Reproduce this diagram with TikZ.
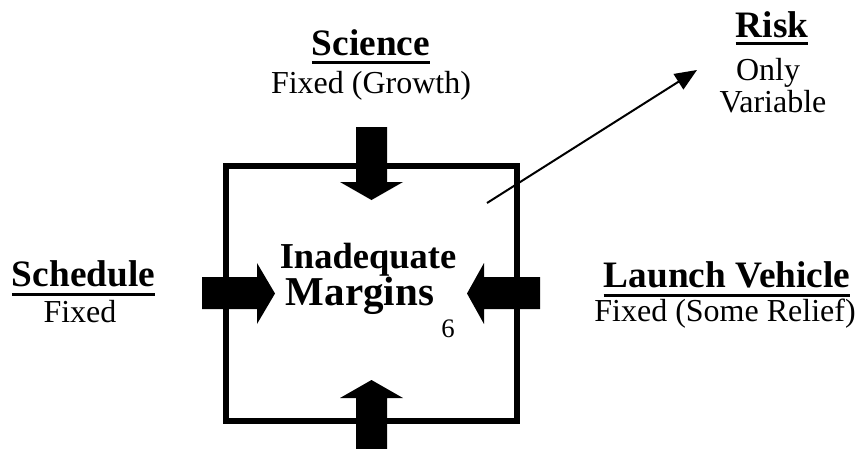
\documentclass[tikz,border=0pt]{standalone}
\usepackage{fontspec}
\setmainfont{Liberation Serif}
\usetikzlibrary{arrows.meta}
\begin{document}
\begin{tikzpicture}[x=1pt,y=-1pt,
  hd/.style={inner sep=0pt,anchor=base,font=\bfseries\fontsize{37.3}{40}\selectfont},
  sub/.style={inner sep=0pt,anchor=base,font=\fontsize{32}{36}\selectfont},
  uline/.style={line width=3pt},
  blk/.style={fill=black,draw=none},
  frm/.style={draw,line width=5.7pt,inner sep=0pt,minimum width=291pt,minimum height=255pt},
  riskarrow/.style={line width=2pt,-{Triangle[length=22pt,width=18pt]}}]
\useasboundingbox (0,0) rectangle (858,448);
% frame
\node[frm] (frame) at (371.5,293.5) {};
% block arrows
\fill[blk] (356,127) -- (387,127) -- (387,182) -- (403,182) -- (371.5,200) -- (340,182) -- (356,182) -- cycle;
\fill[blk] (356,450) -- (387,450) -- (387,398) -- (403,398) -- (371.5,380) -- (340,398) -- (356,398) -- cycle;
\fill[blk] (202,277) -- (257,277) -- (257,263) -- (275,293.5) -- (257,324) -- (257,309) -- (202,309) -- cycle;
\fill[blk] (540,277) -- (484,277) -- (484,263) -- (467,293.5) -- (484,324) -- (484,309) -- (540,309) -- cycle;
% centre text
\node[inner sep=0pt,anchor=base,font=\bfseries\fontsize{36.5}{40}\selectfont] (inad) at (368,268) {Inadequate};
\node[inner sep=0pt,anchor=base,font=\bfseries\fontsize{41}{44}\selectfont] (marg) at (360,305) {Margins};
\node[inner sep=0pt,anchor=base,font=\fontsize{26.7}{30}\selectfont] (six) at (448,337) {6};
% headings
\node[hd] (sci) at (371,55) {Science};
\draw[uline] ([yshift=-7pt]sci.base west) -- ([yshift=-7pt]sci.base east);
\node[sub] (scis) at (371,93) {Fixed (Growth)};
\node[hd] (sch) at (83.5,286) {Schedule};
\draw[uline] ([yshift=-8pt]sch.base west) -- ([yshift=-8pt]sch.base east);
\node[sub] (schs) at (80,322) {Fixed};
\node[hd] (lv) at (727,287) {Launch Vehicle};
\draw[uline] ([yshift=-8pt]lv.base west) -- ([yshift=-8pt]lv.base east);
\node[sub] (lvs) at (725,321) {Fixed (Some Relief)};
\node[hd] (risk) at (772,37) {Risk};
\draw[uline] ([yshift=-6.5pt]risk.base west) -- ([yshift=-6.5pt]risk.base east);
\node[sub] (only) at (768,80) {Only};
\node[sub] (var) at (773,112) {Variable};
% risk arrow
\coordinate (rs) at (487,203);
\coordinate (re) at (697,70);
\draw[riskarrow] (rs) -- (re);
\end{tikzpicture}
\end{document}
